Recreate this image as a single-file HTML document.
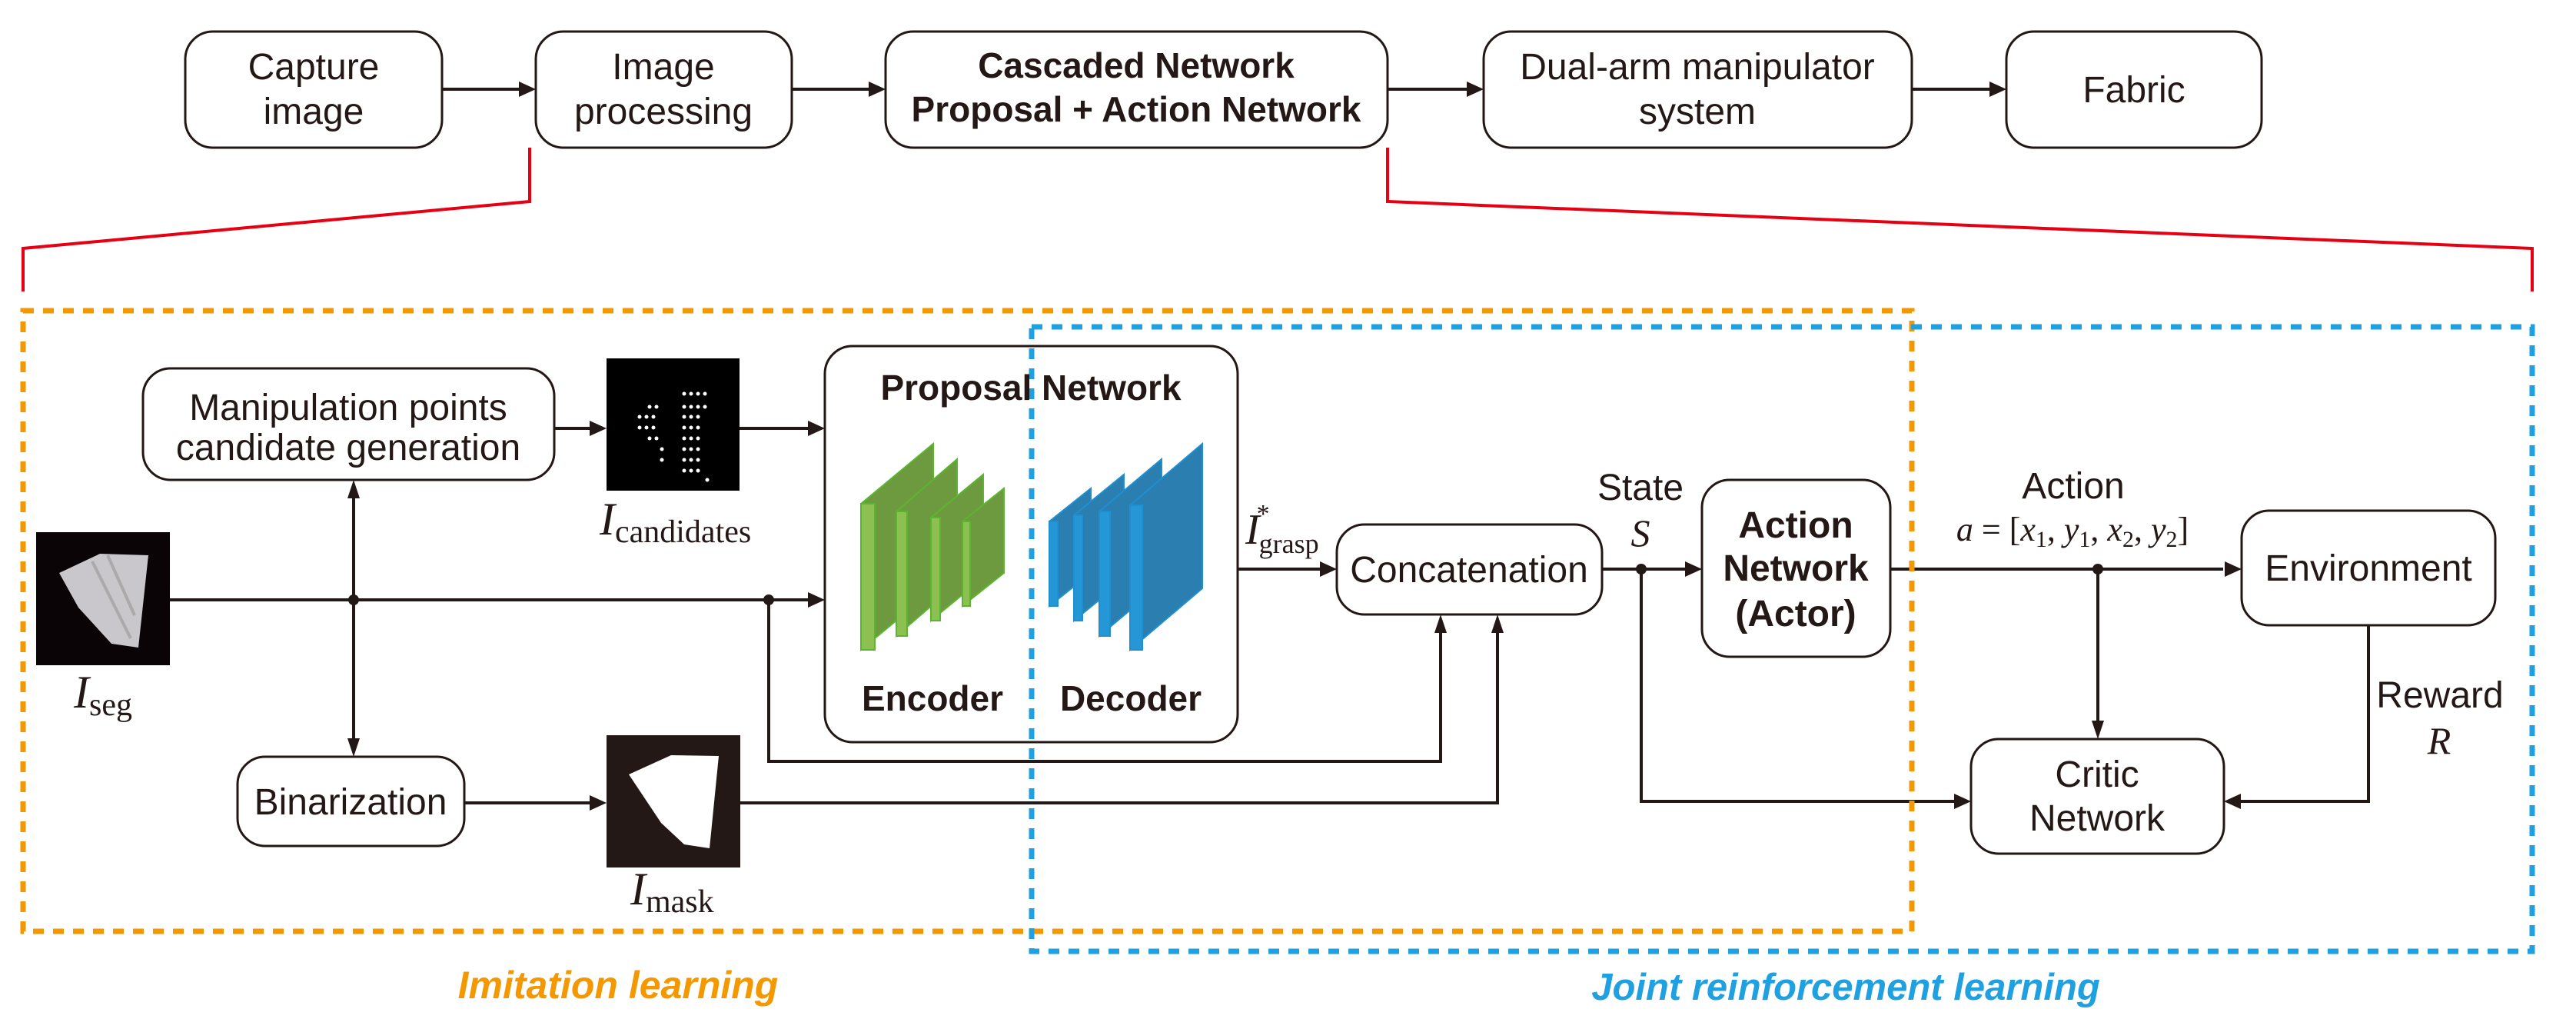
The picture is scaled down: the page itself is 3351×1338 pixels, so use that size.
<!DOCTYPE html>
<html><head><meta charset="utf-8"><style>
html,body{margin:0;padding:0;background:#fff;}
svg{display:block;}
.t{font-family:"Liberation Sans",sans-serif;font-size:48px;fill:#231815;text-anchor:middle;}
.b{font-weight:bold;font-size:46px;}
.m{font-family:"Liberation Serif",serif;fill:#231815;}
</style></head><body>
<svg width="3351" height="1338" viewBox="0 0 3351 1338" xmlns="http://www.w3.org/2000/svg">
<g fill="none" stroke="#231815" stroke-width="3">
<rect x="241" y="41" width="334" height="151" rx="36"/>
<rect x="697" y="41" width="333" height="151" rx="36"/>
<rect x="1152" y="41" width="653" height="151" rx="36"/>
<rect x="1930" y="41" width="557" height="151" rx="36"/>
<rect x="2610" y="41" width="332" height="151" rx="36"/>
<rect x="186" y="479" width="535" height="145" rx="36"/>
<rect x="1073" y="450" width="537" height="515" rx="36"/>
<rect x="309" y="984" width="295" height="116" rx="36"/>
<rect x="1739" y="682" width="345" height="117" rx="36"/>
<rect x="2214" y="624" width="245" height="230" rx="36"/>
<rect x="2916" y="664" width="330" height="149" rx="36"/>
<rect x="2564" y="961" width="329" height="149" rx="36"/>
</g>
<g fill="none" stroke="#231815" stroke-width="4">
<path d="M575 116H676M1030 116H1131M1805 116H1909M2487 116H2589"/>
<path d="M221 780H1052"/>
<path d="M460 645V963"/>
<path d="M721 557H768M962 557H1052"/>
<path d="M604 1044H768"/>
<path d="M1000 780V990H1874V820"/>
<path d="M962 1044H1948V820"/>
<path d="M1610 740H1718"/>
<path d="M2084 740H2193"/>
<path d="M2135 740V1042H2543"/>
<path d="M2459 740H2892"/>
<path d="M2729 740V940"/>
<path d="M3081 813V1042H2914"/>
</g>
<g fill="#231815">
<path d="M697 116l-22 -10v20z"/><path d="M1152 116l-22 -10v20z"/><path d="M1930 116l-22 -10v20z"/><path d="M2610 116l-22 -10v20z"/>
<path d="M789 557l-22 -10v20z"/><path d="M1073 557l-22 -10v20z"/>
<path d="M1073 780l-22 -10v20z"/>
<path d="M789 1044l-22 -10v20z"/>
<path d="M1739 740l-22 -10v20z"/>
<path d="M2214 740l-22 -10v20z"/>
<path d="M2916 740l-22 -10v20z"/>
<path d="M2564 1042l-22 -10v20z"/>
<path d="M2893 1042l22 -10v20z"/>
<path d="M460 624l-8 24h16z"/>
<path d="M460 984l-8 -24h16z"/>
<path d="M1874 799l-8 24h16z"/>
<path d="M1948 799l-8 24h16z"/>
<path d="M2729 961l-8 -24h16z"/>
<circle cx="460" cy="780" r="7"/><circle cx="1000" cy="780" r="7"/>
<circle cx="2135" cy="740" r="7"/><circle cx="2729" cy="740" r="7"/>
</g>
<path d="M689 192V262L30 323V379M1805 192V262L3294 323V379" fill="none" stroke="#e60012" stroke-width="4"/>
<rect x="30" y="404" width="2457" height="807" fill="none" stroke="#f39800" stroke-width="7" stroke-dasharray="14 12"/>
<rect x="1342" y="425" width="1952" height="812" fill="none" stroke="#1fa0e0" stroke-width="7" stroke-dasharray="14 12"/>
<rect x="47" y="692" width="174" height="173" fill="#0a0406"/>
<polygon points="77,745 130,720 193,722 180,842 145,837 102,790" fill="#c9c7cc"/>
<path d="M120 730 L170 830 M140 722 L175 800" stroke="#aaa" stroke-width="4" fill="none"/>
<rect x="789" y="956" width="174" height="172" fill="#231815"/>
<polygon points="818,1007 873,982 935,983 923,1103 890,1098 860,1070" fill="#fff"/>
<rect x="789" y="466" width="173" height="172" fill="#000"/>
<g fill="#fff">
<circle cx="890" cy="512" r="2.5"/><circle cx="899" cy="512" r="2.5"/><circle cx="908" cy="512" r="2.5"/><circle cx="917" cy="512" r="2.5"/>
<circle cx="845" cy="529" r="2.5"/><circle cx="854" cy="529" r="2.5"/><circle cx="890" cy="529" r="2.5"/><circle cx="899" cy="529" r="2.5"/><circle cx="908" cy="529" r="2.5"/><circle cx="917" cy="529" r="2.5"/>
<circle cx="832" cy="542" r="2.5"/><circle cx="841" cy="542" r="2.5"/><circle cx="850" cy="542" r="2.5"/><circle cx="890" cy="542" r="2.5"/><circle cx="899" cy="542" r="2.5"/><circle cx="908" cy="542" r="2.5"/>
<circle cx="832" cy="556" r="2.5"/><circle cx="841" cy="556" r="2.5"/><circle cx="850" cy="556" r="2.5"/><circle cx="890" cy="556" r="2.5"/><circle cx="899" cy="556" r="2.5"/><circle cx="908" cy="556" r="2.5"/>
<circle cx="845" cy="570" r="2.5"/><circle cx="854" cy="570" r="2.5"/><circle cx="890" cy="570" r="2.5"/><circle cx="899" cy="570" r="2.5"/><circle cx="908" cy="570" r="2.5"/>
<circle cx="861" cy="584" r="2.5"/><circle cx="890" cy="584" r="2.5"/><circle cx="899" cy="584" r="2.5"/><circle cx="908" cy="584" r="2.5"/>
<circle cx="861" cy="598" r="2.5"/><circle cx="890" cy="598" r="2.5"/><circle cx="899" cy="598" r="2.5"/><circle cx="908" cy="598" r="2.5"/>
<circle cx="890" cy="612" r="2.5"/><circle cx="899" cy="612" r="2.5"/><circle cx="908" cy="612" r="2.5"/>
<circle cx="920" cy="624" r="2.5"/>
</g>
<g stroke="#5cb531" stroke-width="2">
<polygon points="1120,655 1214,577 1214,767 1120,845" fill="#6e9a3f"/><rect x="1120" y="655" width="18" height="190" fill="#8cc152"/>
<polygon points="1166,665 1245,597 1245,759 1166,827" fill="#6e9a3f"/><rect x="1166" y="665" width="14" height="162" fill="#8cc152"/>
<polygon points="1211,673 1279,617 1279,751 1211,807" fill="#6e9a3f"/><rect x="1211" y="673" width="12" height="134" fill="#8cc152"/>
<polygon points="1252,678 1306,635 1306,745 1252,788" fill="#6e9a3f"/><rect x="1252" y="678" width="10" height="110" fill="#8cc152"/>
</g>
<g stroke="#1f8fd0" stroke-width="2">
<polygon points="1365,678 1419,635 1419,745 1365,788" fill="#2a7fb0"/><rect x="1365" y="678" width="11" height="110" fill="#2596d6"/>
<polygon points="1397,670 1462,617 1462,754 1397,807" fill="#2a7fb0"/><rect x="1397" y="670" width="11" height="137" fill="#2596d6"/>
<polygon points="1430,665 1511,597 1511,759 1430,827" fill="#2a7fb0"/><rect x="1430" y="665" width="14" height="162" fill="#2596d6"/>
<polygon points="1470,657 1564,577 1564,765 1470,845" fill="#2a7fb0"/><rect x="1470" y="657" width="16" height="188" fill="#2596d6"/>
</g>
<text class="t" x="408" y="103">Capture</text><text class="t" x="408" y="161">image</text>
<text class="t" x="863" y="103">Image</text><text class="t" x="863" y="161">processing</text>
<text class="t b" x="1478" y="101">Cascaded Network</text><text class="t b" x="1478" y="158">Proposal + Action Network</text>
<text class="t" x="2208" y="103">Dual-arm manipulator</text><text class="t" x="2208" y="161">system</text>
<text class="t" x="2776" y="133">Fabric</text>
<text class="t" x="453" y="546">Manipulation points</text><text class="t" x="453" y="598">candidate  generation</text>
<text class="t b" x="1341" y="520">Proposal Network</text>
<text class="t b" x="1213" y="924">Encoder</text><text class="t b" x="1471" y="924">Decoder</text>
<text class="t" x="456" y="1059">Binarization</text>
<text class="t" x="1911" y="757">Concatenation</text>
<text class="t b" x="2336" y="699" style="font-size:48px">Action</text><text class="t b" x="2336" y="755" style="font-size:48px">Network</text><text class="t b" x="2336" y="814" style="font-size:48px">(Actor)</text>
<text class="t" x="2134" y="650">State</text>
<text class="t" x="2697" y="648">Action</text>
<text class="t" x="3081" y="755">Environment</text>
<text class="t" x="2728" y="1023">Critic</text><text class="t" x="2728" y="1080">Network</text>
<text class="t" x="3174" y="920">Reward</text>
<text class="m" x="3173" y="980" font-size="50" font-style="italic" text-anchor="middle">R</text>
<text class="m" x="2134" y="710" font-size="50" font-style="italic" text-anchor="middle">S</text>
<text class="m" x="2696" y="703" font-size="44" text-anchor="middle"><tspan font-style="italic">a</tspan> = [<tspan font-style="italic">x</tspan><tspan font-size="30" dy="8">1</tspan><tspan dy="-8">, </tspan><tspan font-style="italic">y</tspan><tspan font-size="30" dy="8">1</tspan><tspan dy="-8">, </tspan><tspan font-style="italic">x</tspan><tspan font-size="30" dy="8">2</tspan><tspan dy="-8">, </tspan><tspan font-style="italic">y</tspan><tspan font-size="30" dy="8">2</tspan><tspan dy="-8">]</tspan></text>
<text class="m" x="780" y="695" font-size="60" font-style="italic">I<tspan font-style="normal" font-size="42" dy="10">candidates</tspan></text>
<text class="m" x="96" y="920" font-size="60" font-style="italic">I<tspan font-style="normal" font-size="42" dy="10">seg</tspan></text>
<text class="m" x="820" y="1176" font-size="60" font-style="italic">I<tspan font-style="normal" font-size="42" dy="10">mask</tspan></text>
<text class="m" x="1620" y="707" font-size="56" font-style="italic">I<tspan font-style="normal" font-size="34" dy="-28" dx="-4">*</tspan><tspan font-style="normal" font-size="36" dy="40" dx="-14">grasp</tspan></text>
<text x="804" y="1298" font-family="Liberation Sans,sans-serif" font-size="50" font-weight="bold" font-style="italic" fill="#f39800" text-anchor="middle">Imitation learning</text>
<text x="2401" y="1300" font-family="Liberation Sans,sans-serif" font-size="49" font-weight="bold" font-style="italic" fill="#1fa0e0" text-anchor="middle">Joint reinforcement learning</text>
</svg>
</body></html>
